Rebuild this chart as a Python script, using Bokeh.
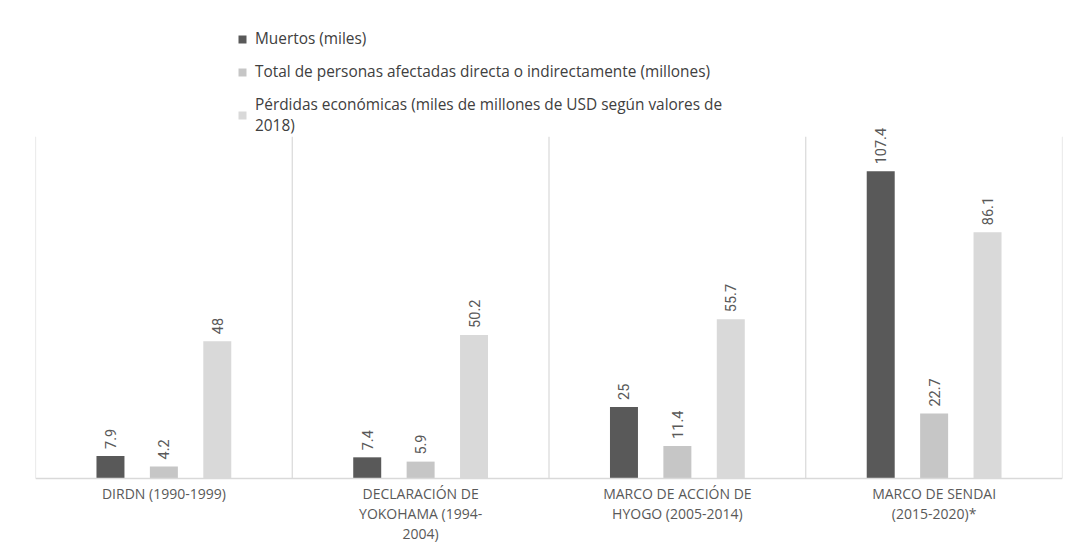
from bokeh.plotting import figure
from bokeh.models import ColumnDataSource, FactorRange, Range1d, Legend, LegendItem, Span
from bokeh.transform import dodge
from bokeh.core.properties import value
from bokeh.embed import file_html
from bokeh.resources import INLINE
import math

categories = [
    "DIRDN (1990-1999)",
    "DECLARACIÓN DE\nYOKOHAMA (1994-\n2004)",
    "MARCO DE ACCIÓN DE\nHYOGO (2005-2014)",
    "MARCO DE SENDAI\n(2015-2020)*",
]
series_names = [
    "Muertos (miles)",
    "Total de personas afectadas directa o indirectamente (millones)",
    "Pérdidas económicas (miles de millones de USD según valores de\n2018)",
]
muertos = [7.9, 7.4, 25, 107.4]
afectadas = [4.2, 5.9, 11.4, 22.7]
perdidas = [48, 50.2, 55.7, 86.1]

colors = ["#595959", "#c6c6c6", "#d9d9d9"]
offsets = [-0.208, 0.0, 0.208]
bar_w = 0.109

src = ColumnDataSource(dict(
    cat=categories,
    zero=[0] * len(categories),
    s0=muertos, s1=afectadas, s2=perdidas,
    l0=[f"{v:g}" for v in muertos],
    l1=[f"{v:g}" for v in afectadas],
    l2=[f"{v:g}" for v in perdidas],
))

p = figure(
    x_range=FactorRange(*categories, range_padding=0),
    y_range=Range1d(-23.78, 167.13),
    width=1086, height=546,
    output_backend="svg", toolbar_location=None,
    min_border_left=35, min_border_right=24,
    min_border_top=0, min_border_bottom=0,
)
p.outline_line_color = None
p.background_fill_color = "white"
p.border_fill_color = "white"
p.xgrid.visible = False
p.ygrid.visible = False
p.yaxis.visible = False
p.xaxis.visible = False

# category dividers and baseline
n = len(categories)
p.segment(x0=list(range(n + 1)), x1=list(range(n + 1)), y0=0, y1=119.5,
          line_color="#d9d9d9", line_width=1.2)
p.add_layout(Span(location=0, dimension="width", line_color="#d9d9d9", line_width=1.5))

renderers = []
for i, (col, lab) in enumerate([("s0", "l0"), ("s1", "l1"), ("s2", "l2")]):
    r = p.vbar(x=dodge("cat", offsets[i], range=p.x_range), top=col, width=bar_w,
               source=src, fill_color=colors[i], line_color=None)
    renderers.append(r)
    p.text(x=dodge("cat", offsets[i], range=p.x_range), y=col, text=lab, source=src,
           angle=math.pi / 2, text_align="left", text_baseline="middle",
           x_offset=0, y_offset=-7,
           text_font=value("Roboto"), text_font_size="14.5px",
           text_color="#595959")

# category labels
p.text(x="cat", y="zero", text="cat", source=src,
       text_align="center", text_baseline="top", y_offset=6,
       text_font=value("Open Sans"), text_font_size="14px",
       text_line_height=1.05, text_color="#595959")

legend = Legend(
    items=[LegendItem(label=series_names[i], renderers=[renderers[i]]) for i in range(3)],
    location=(202, 410),
    orientation="vertical",
    border_line_color=None, background_fill_alpha=0,
    padding=0, margin=0,
    glyph_width=10, glyph_height=10, label_standoff=8,
    label_height=20, spacing=12,
    label_text_font="Open Sans", label_text_font_size="15.4px",
    label_text_color="#404040",
)
p.add_layout(legend, "center")

open("out.html", "w").write(file_html(p, INLINE))
